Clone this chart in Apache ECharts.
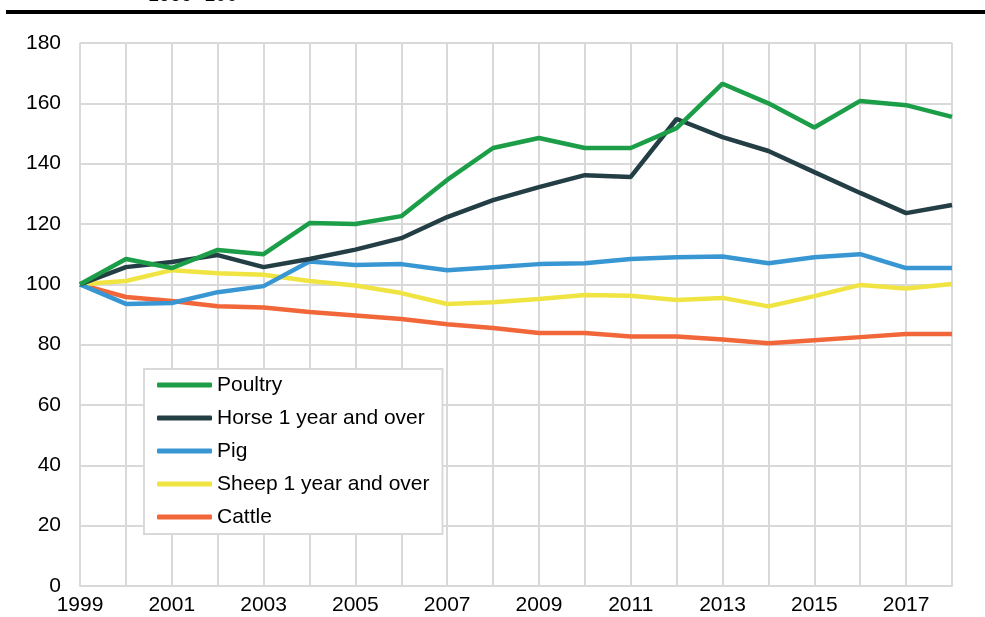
<!DOCTYPE html>
<html>
<head>
<meta charset="utf-8">
<script src="https://cdn.jsdelivr.net/npm/echarts@6/dist/echarts.min.js"></script>
<style>
  html, body { margin: 0; padding: 0; background: #fff; }
  #main { width: 985px; height: 617px; }
</style>
</head>
<body>
<div id="main"></div>
<script>
// years on the x axis
var years = ['1999', '2000', '2001', '2002', '2003', '2004', '2005', '2006', '2007', '2008',
    '2009', '2010', '2011', '2012', '2013', '2014', '2015', '2016', '2017', '2018'];

// index values, 1999 = 100
var poultry = [100, 108.4, 105.4, 111.4, 110, 120.3, 120, 122.6, 134.6, 145.2,
    148.5, 145.2, 145.2, 151.8, 166.5, 160, 152, 160.8, 159.4, 155.5];
var horse = [100, 105.7, 107.4, 109.7, 105.7, 108.4, 111.5, 115.3, 122.3, 127.9,
    132.2, 136.2, 135.6, 154.8, 148.8, 144.2, 137.2, 130.3, 123.6, 126.3];
var pig = [100, 93.5, 93.8, 97.4, 99.4, 107.6, 106.4, 106.7, 104.7, 105.7,
    106.7, 107, 108.4, 109, 109.2, 107, 109, 110, 105.4, 105.4];
var sheep = [100, 101.1, 104.7, 103.7, 103.2, 101.1, 99.6, 97.1, 93.5, 94.1,
    95.1, 96.5, 96.2, 94.8, 95.5, 92.7, 96.1, 99.8, 98.6, 100.1];
var cattle = [100, 95.8, 94.5, 92.7, 92.3, 90.8, 89.7, 88.5, 86.8, 85.5,
    83.9, 83.9, 82.7, 82.7, 81.7, 80.5, 81.5, 82.5, 83.5, 83.5];

var names = ['Poultry', 'Horse 1 year and over', 'Pig', 'Sheep 1 year and over', 'Cattle'];
var colors = ['#1b9e47', '#233e44', '#3897d3', '#f0e442', '#f26739'];
var values = [poultry, horse, pig, sheep, cattle];

var font = "'Liberation Sans', Arial, sans-serif";
var gridColor = '#d9d9d9';

var myChart = echarts.init(document.getElementById('main'));

var series = [];
for (var i = values.length - 1; i >= 0; i--) {
    series.push({
        name: names[i],
        type: 'line',
        data: values[i],
        showSymbol: false,
        lineStyle: {width: 4.5, color: colors[i]},
        itemStyle: {color: colors[i]},
        z: 10 - i
    });
}

var option = {
    animation: false,
    textStyle: {fontFamily: font},
    grid: {left: 80, right: 33, top: 43, bottom: 31},
    graphic: [
        {
            type: 'line',
            shape: {x1: 6, y1: 12, x2: 985, y2: 12},
            style: {stroke: '#000', lineWidth: 4}
        },
        {
            type: 'text',
            left: 148,
            top: -15,
            style: {text: '1999=100', font: '20px ' + font, fill: '#000'}
        }
    ],
    legend: {
        data: names,
        orient: 'vertical',
        left: 144,
        top: 369,
        icon: 'roundRect',
        itemWidth: 55,
        itemHeight: 5,
        itemGap: 11,
        padding: [5, 13, 6, 13],
        borderColor: gridColor,
        borderWidth: 2,
        backgroundColor: '#fff',
        textStyle: {fontSize: 21, lineHeight: 22, color: '#000', fontFamily: font}
    },
    xAxis: {
        type: 'category',
        data: years,
        boundaryGap: false,
        axisTick: {show: false},
        axisLine: {lineStyle: {color: gridColor, width: 2}},
        axisLabel: {interval: 1, margin: 9, fontSize: 21, color: '#000', fontFamily: font},
        splitLine: {show: true, interval: 0, lineStyle: {color: gridColor, width: 2}}
    },
    yAxis: {
        type: 'value',
        min: 0,
        max: 180,
        interval: 20,
        axisLine: {show: false},
        axisTick: {show: false},
        axisLabel: {margin: 19, fontSize: 21, color: '#000', fontFamily: font},
        splitLine: {lineStyle: {color: gridColor, width: 2}}
    },
    series: series
};

myChart.setOption(option);
</script>
</body>
</html>
